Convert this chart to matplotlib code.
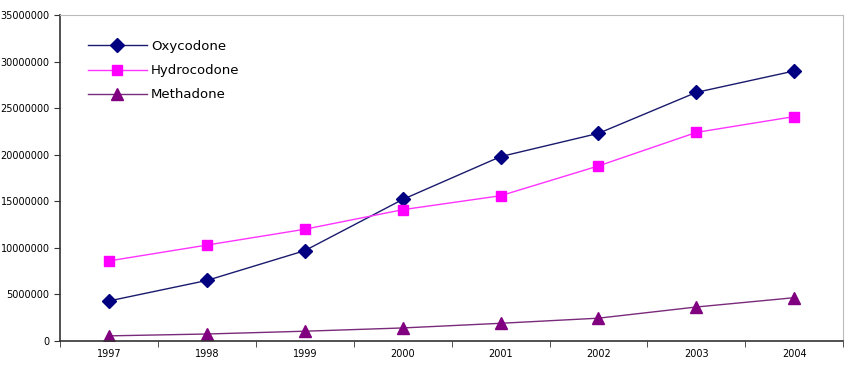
import matplotlib.pyplot as plt
import numpy as np

years = ['1997', '1998', '1999', '2000', '2001', '2002', '2003', '2004']
oxycodone = [4300000, 6500000, 9700000, 15200000, 19800000, 22300000, 26700000, 29000000]
hydrocodone = [8600000, 10300000, 12000000, 14100000, 15600000, 18800000, 22400000, 24100000]
methadone = [550000, 750000, 1050000, 1400000, 1900000, 2450000, 3650000, 4650000]

fig = plt.figure(figsize=(8.5, 3.68), dpi=100)
ax = fig.add_axes([0.0706, 0.0734, 0.9214, 0.8856])

x = np.arange(len(years))
ax.plot(x, oxycodone, color='#1a1a6e', lw=1, marker='D', ms=7,
        mfc='#000080', mec='#000080', label='Oxycodone')
ax.plot(x, hydrocodone, color='#ff33ff', lw=1, marker='s', ms=7,
        mfc='#ff00ff', mec='#ff00ff', label='Hydrocodone')
ax.plot(x, methadone, color='#7a2a7a', lw=1, marker='^', ms=9,
        mfc='#800080', mec='#800080', label='Methadone')

ax.set_xlim(-0.5, len(years) - 0.5)
ax.set_ylim(0, 35000000)
ax.set_xticks(x)
ax.set_xticklabels(years)
ax.set_xticks(np.arange(-0.5, len(years)), minor=True)
ax.tick_params(axis='x', which='major', length=0, labelsize=7, pad=6)
ax.tick_params(axis='x', which='minor', length=4, direction='out', color='#333333')
ax.set_yticks(np.arange(0, 35000001, 5000000))
ax.set_yticklabels([str(v) for v in range(0, 35000001, 5000000)])
ax.tick_params(axis='y', length=4, direction='out', labelsize=7, color='#333333')

for s in ['left', 'bottom']:
    ax.spines[s].set_color('#333333')
    ax.spines[s].set_linewidth(1.2)
for s in ['top', 'right']:
    ax.spines[s].set_color('#bbbbbb')
    ax.spines[s].set_linewidth(0.8)

ax.legend(loc='upper left', bbox_to_anchor=(0.02, 0.96), frameon=False,
          fontsize=9.5, handlelength=4.5, labelspacing=0.85, handletextpad=0.3)

fig.savefig('out.png', dpi=100)
